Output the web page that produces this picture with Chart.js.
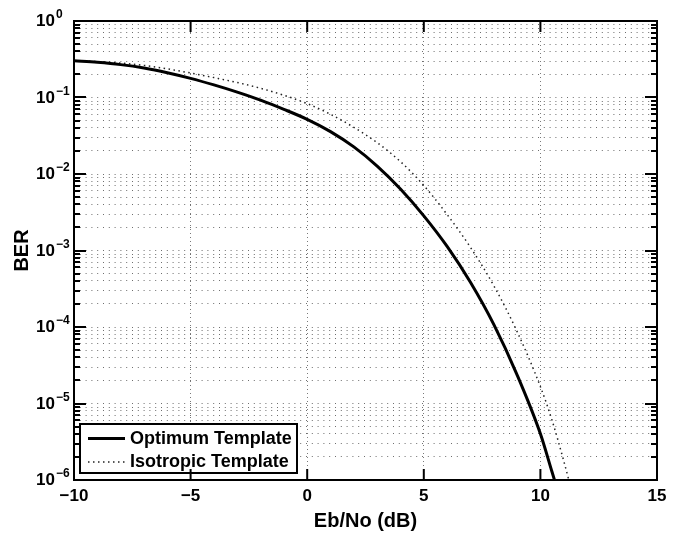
<!DOCTYPE html>
<html>
<head>
<meta charset="utf-8">
<title>BER vs Eb/No</title>
<script src="https://cdn.jsdelivr.net/npm/chart.js@4.4.1/dist/chart.umd.min.js"></script>
<style>
    html, body { margin: 0; padding: 0; background: #fff; }
    canvas { display: block; }
</style>
</head>
<body>
<canvas id="berChart" width="682" height="533"></canvas>
<script>
(function () {
    "use strict";

    // Eb/No (dB) sample points
    const optimumX = [-10, -9, -8, -7, -6, -5, -4, -3, -2, -1, 0, 1, 2, 3, 4, 5, 6, 7, 8, 9, 10, 10.5, 10.7];
    const optimumBer = [0.302, 0.288, 0.269, 0.243, 0.211, 0.178, 0.146, 0.1175, 0.0923, 0.0700, 0.0518,
        0.0358, 0.0226, 0.0127, 6.37e-3, 2.84e-3, 1.13e-3, 3.84e-4, 1.08e-4, 2.37e-5, 4.02e-6, 1.27e-6, 8.0e-7];

    const isotropicX = [-10, -9, -8, -7, -6, -5, -4, -3, -2, -1, 0, 1, 2, 3, 4, 5, 6, 7, 8, 9, 10, 10.5, 11, 11.2, 11.4];
    const isotropicBer = [0.302, 0.295, 0.282, 0.263, 0.237, 0.209, 0.182, 0.157, 0.132, 0.107, 0.0832,
        0.0603, 0.0407, 0.0257, 0.0145, 7.08e-3, 2.95e-3, 1.10e-3, 3.47e-4, 8.71e-5, 1.66e-5, 6.03e-6, 1.78e-6, 1.05e-6, 6.0e-7];

    const xTicks = [-10, -5, 0, 5, 10, 15];
    const yExponents = [-6, -5, -4, -3, -2, -1, 0];
    const minorSteps = [2, 3, 4, 5, 6, 7, 8, 9];

    const FONT = "'Liberation Sans', Arial, Helvetica, sans-serif";

    // every decade plus its minor lines 2..9
    const yTickValues = [];
    yExponents.forEach(function (e, i) {
        yTickValues.push(Math.pow(10, e));
        if (i < yExponents.length - 1) {
            minorSteps.forEach(m => yTickValues.push(m * Math.pow(10, e)));
        }
    });

    function toPoints(xs, ys) {
        return xs.map((x, i) => ({ x: x, y: ys[i] }));
    }

    // y labels as 10 with a raised exponent, like the original figure
    const powerLabels = {
        id: 'powerLabels',
        afterDraw(chart) {
            const ctx = chart.ctx;
            const yScale = chart.scales.y;
            ctx.save();
            ctx.fillStyle = '#000';
            ctx.textBaseline = 'middle';
            yExponents.forEach(function (e) {
                const y = yScale.getPixelForValue(Math.pow(10, e));
                ctx.font = 'bold 17px ' + FONT;
                ctx.textAlign = 'right';
                ctx.fillText('10', 55, y + 0.5);
                ctx.font = 'bold 12px ' + FONT;
                ctx.textAlign = 'left';
                ctx.fillText(e === 0 ? '0' : '\u2212' + Math.abs(e), 56, y - 6);
            });
            ctx.restore();
        }
    };

    // axes box with inward ticks on all four sides
    const axesBox = {
        id: 'axesBox',
        afterDraw(chart) {
            const ctx = chart.ctx;
            const a = chart.chartArea;
            const xs = chart.scales.x;
            const ys = chart.scales.y;
            ctx.save();
            ctx.strokeStyle = '#000';
            ctx.lineWidth = 2;
            ctx.beginPath();
            xTicks.forEach(function (v) {
                const px = xs.getPixelForValue(v);
                ctx.moveTo(px, a.bottom); ctx.lineTo(px, a.bottom - 11);
                ctx.moveTo(px, a.top); ctx.lineTo(px, a.top + 11);
            });
            yTickValues.forEach(function (v) {
                const py = Math.round(ys.getPixelForValue(v));
                const len = yExponents.some(e => Math.abs(Math.pow(10, e) - v) < v * 1e-9) ? 12 : 6;
                ctx.moveTo(a.left, py); ctx.lineTo(a.left + len, py);
                ctx.moveTo(a.right, py); ctx.lineTo(a.right - len, py);
            });
            ctx.stroke();
            ctx.strokeRect(a.left, a.top, a.right - a.left, a.bottom - a.top);
            ctx.restore();
        }
    };

    // boxed legend in the lower left corner of the plot
    const boxLegend = {
        id: 'boxLegend',
        afterDatasetsDraw(chart) {
            const ctx = chart.ctx;
            const a = chart.chartArea;
            const x0 = a.left + 6, y0 = a.bottom - 56, w = 217, h = 49;
            ctx.save();
            ctx.fillStyle = '#fff';
            ctx.fillRect(x0, y0, w, h);
            ctx.strokeStyle = '#000';
            ctx.lineWidth = 2;
            ctx.strokeRect(x0, y0, w, h);
            chart.data.datasets.forEach(function (ds, i) {
                const y = y0 + 14.5 + i * 23.5;
                ctx.beginPath();
                ctx.setLineDash(ds.borderDash || []);
                ctx.lineWidth = ds.borderWidth;
                ctx.strokeStyle = ds.borderColor;
                ctx.moveTo(x0 + 8, y);
                ctx.lineTo(x0 + 45, y);
                ctx.stroke();
                ctx.setLineDash([]);
                ctx.fillStyle = '#000';
                ctx.font = 'bold 18px ' + FONT;
                ctx.textAlign = 'left';
                ctx.textBaseline = 'middle';
                ctx.fillText(ds.label, x0 + 50, y + 0.5);
            });
            ctx.restore();
        }
    };

    function initChart() {
        const ctx = document.getElementById('berChart').getContext('2d');
        new Chart(ctx, {
            type: 'line',
            data: {
                datasets: [
                    {
                        label: 'Optimum Template',
                        data: toPoints(optimumX, optimumBer),
                        borderColor: '#000',
                        borderWidth: 3,
                        pointRadius: 0,
                        cubicInterpolationMode: 'monotone',
                        fill: false
                    },
                    {
                        label: 'Isotropic Template',
                        data: toPoints(isotropicX, isotropicBer),
                        borderColor: '#222',
                        borderWidth: 1.5,
                        borderDash: [1.5, 3.5],
                        pointRadius: 0,
                        cubicInterpolationMode: 'monotone',
                        fill: false
                    }
                ]
            },
            options: {
                responsive: false,
                animation: false,
                devicePixelRatio: 1,
                layout: { padding: { top: 21, right: 25, left: 0, bottom: 0 } },
                plugins: {
                    legend: { display: false },
                    tooltip: { enabled: false }
                },
                scales: {
                    x: {
                        type: 'linear',
                        min: -10,
                        max: 15,
                        afterBuildTicks: s => { s.ticks = xTicks.map(v => ({ value: v })); },
                        afterFit: s => { s.height = 53; },
                        grid: { color: '#7a7a7a', lineWidth: 1, drawTicks: false },
                        border: { display: false, dash: [1, 3] },
                        ticks: {
                            color: '#000',
                            autoSkip: false,
                            maxRotation: 0,
                            padding: 6,
                            font: { family: FONT, size: 17, weight: 'bold' },
                            callback: v => v < 0 ? '\u2212' + Math.abs(v) : String(v)
                        },
                        title: {
                            display: true,
                            text: 'Eb/No (dB)',
                            color: '#000',
                            font: { family: FONT, size: 20, weight: 'bold' },
                            padding: { top: 0, bottom: 0 }
                        }
                    },
                    y: {
                        type: 'logarithmic',
                        min: 1e-6,
                        max: 1,
                        afterBuildTicks: s => { s.ticks = yTickValues.map(v => ({ value: v })); },
                        afterFit: s => { s.width = 74; },
                        grid: { color: '#6e6e6e', lineWidth: 1, drawTicks: false },
                        border: { display: false, dash: [1, 4.8] },
                        ticks: { display: false },
                        title: {
                            display: true,
                            text: 'BER',
                            color: '#000',
                            font: { family: FONT, size: 20, weight: 'bold' },
                            padding: { top: 10, bottom: 0 }
                        }
                    }
                }
            },
            plugins: [boxLegend, powerLabels, axesBox]
        });
    }

    document.addEventListener('DOMContentLoaded', initChart);
})();
</script>
</body>
</html>
